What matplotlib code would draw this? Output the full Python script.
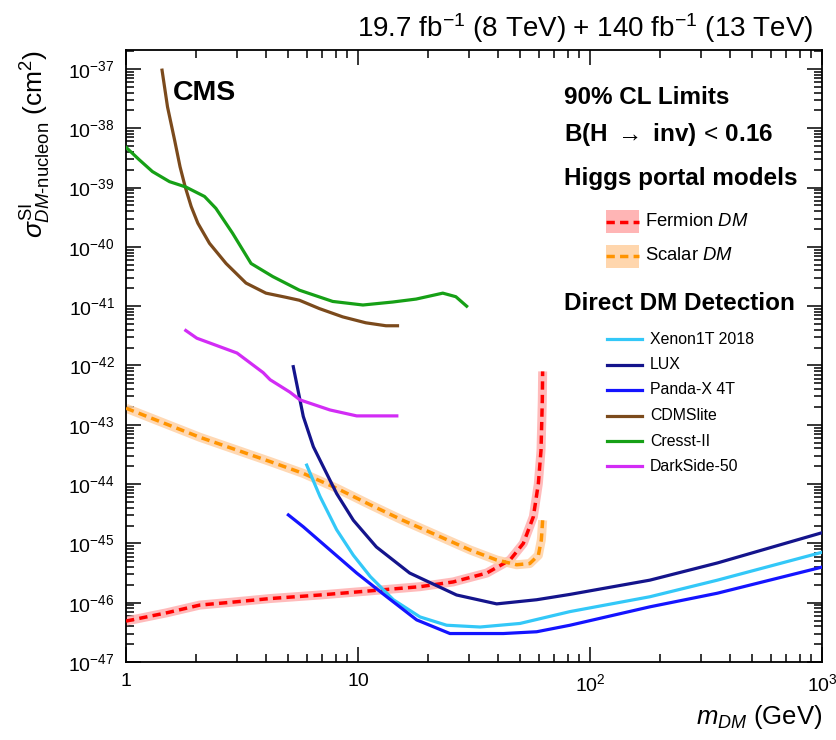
import numpy as np
import matplotlib
matplotlib.use("Agg")
import matplotlib.pyplot as plt
from matplotlib.ticker import LogLocator, FixedLocator, FixedFormatter, NullFormatter
from matplotlib.patches import Rectangle
from matplotlib.lines import Line2D

plt.rcParams['font.family'] = ['Liberation Sans', 'DejaVu Sans']
plt.rcParams['mathtext.fontset'] = 'custom'
plt.rcParams['mathtext.rm'] = 'Liberation Sans'
plt.rcParams['mathtext.it'] = 'Liberation Sans:italic'
plt.rcParams['mathtext.bf'] = 'Liberation Sans:bold'

# ---------------- data (mass in GeV, log10 of cross section in cm^2) ----------------
cdms_m = [1.43, 1.51, 1.62, 1.71, 1.80, 1.91, 2.04, 2.29, 2.70, 3.29, 4.01, 4.89, 5.59,
          6.81, 8.59, 10.8, 13.2, 14.8]
cdms_logs = [-37.02, -37.64, -38.20, -38.65, -38.99, -39.32, -39.60, -39.94, -40.28, -40.61,
             -40.78, -40.85, -40.90, -41.04, -41.18, -41.28, -41.33, -41.33]

cresst_m = [1.0, 1.14, 1.30, 1.54, 1.81, 2.18, 2.44, 2.88, 3.46, 4.29, 5.59, 7.78, 10.5,
            14.1, 17.8, 23.2, 26.4, 29.4]
cresst_logs = [-38.32, -38.53, -38.73, -38.90, -38.99, -39.15, -39.35, -39.77, -40.28, -40.50,
               -40.73, -40.92, -40.98, -40.93, -40.88, -40.78, -40.84, -41.00]

ds50_m = [1.81, 2.02, 3.01, 3.9, 4.18, 5.09, 5.62, 7.57, 9.87, 14.7]
ds50_logs = [-41.41, -41.54, -41.79, -42.12, -42.24, -42.45, -42.58, -42.75, -42.85, -42.85]

lux_m = [5.26, 5.81, 6.42, 7.09, 8.09, 9.55, 12.0, 16.7, 26.6, 39.6, 58.9, 82, 181, 354, 1000]
lux_logs = [-42.02, -42.86, -43.37, -43.71, -44.16, -44.61, -45.06, -45.50, -45.87, -46.02,
            -45.95, -45.86, -45.62, -45.33, -44.82]

xenon_m = [6.01, 6.86, 8.09, 9.55, 11.3, 14.2, 18.5, 24.1, 33.6, 49.9, 82, 181, 354, 1000]
xenon_logs = [-43.68, -44.21, -44.77, -45.20, -45.56, -45.95, -46.24, -46.38, -46.41, -46.35,
              -46.15, -45.90, -45.62, -45.15]

panda_m = [5.01, 5.81, 7.57, 9.87, 13.3, 17.9, 24.9, 42.3, 58.9, 82, 181, 354, 1000]
panda_logs = [-44.52, -44.72, -45.11, -45.50, -45.90, -46.29, -46.52, -46.52, -46.49, -46.38,
              -46.07, -45.84, -45.40]

ferm_m = [1.0, 1.5, 2.08, 2.89, 4.18, 6.86, 11.3, 18.5, 25.7, 35.9, 45.2, 51.6, 57.0, 59.9,
          61.5, 62.3, 62.5]
ferm_logs = [-46.31, -46.17, -46.04, -45.99, -45.93, -45.87, -45.80, -45.73, -45.65, -45.50,
             -45.28, -45.00, -44.55, -43.99, -43.43, -42.58, -42.10]

scal_m = [1.0, 2.08, 4.18, 5.81, 8.09, 11.3, 15.6, 21.8, 30.4, 39.6, 48.3, 55.0, 59.9, 61.7, 62.5]
scal_logs = [-42.72, -43.21, -43.62, -43.82, -44.07, -44.35, -44.61, -44.86, -45.11, -45.28,
             -45.36, -45.34, -45.20, -44.94, -44.61]

direct_labels = ["Xenon1T 2018", "LUX", "Panda-X 4T", "CDMSlite", "Cresst-II", "DarkSide-50"]
direct_colors = ["#33c8f8", "#14148c", "#1414ff", "#7b4a1c", "#16a016", "#d22cf5"]

def s(v):
    return 10.0 ** np.asarray(v)

# ---------------- figure ----------------
W, H = 837, 740
fig = plt.figure(figsize=(W / 100, H / 100), dpi=100)
L, R, T, B = 126, 822, 50, 662
ax = fig.add_axes([L / W, 1 - B / H, (R - L) / W, (B - T) / H])
ax.set_xscale('log')
ax.set_yscale('log')
ax.set_xlim(1, 1000)
ax.set_ylim(1e-47, 10 ** (-36.68))

DASH = (0, (2.4, 1.5))
# Higgs portal bands + dashed lines
ax.plot(ferm_m, s(ferm_logs), color='#ffb0b0', lw=6.5, alpha=0.85, solid_capstyle='butt', zorder=2)
ax.plot(ferm_m, s(ferm_logs), color='#ff0000', lw=2.5, ls=DASH, zorder=3)
ax.plot(scal_m, s(scal_logs), color='#ffd2a6', lw=6.5, alpha=0.85, solid_capstyle='butt', zorder=2)
ax.plot(scal_m, s(scal_logs), color='#ff9400', lw=2.5, ls=DASH, zorder=3)

# Direct detection limits
series = [(xenon_m, xenon_logs), (lux_m, lux_logs), (panda_m, panda_logs),
          (cdms_m, cdms_logs), (cresst_m, cresst_logs), (ds50_m, ds50_logs)]
for (m, lg), c in zip(series, direct_colors):
    ax.plot(m, s(lg), color=c, lw=2.3, zorder=4, solid_joinstyle='round')

# ticks: ROOT style
ax.tick_params(which='both', direction='in', top=True, right=True, width=1.1)
ax.tick_params(which='major', length=11, labelsize=14, pad=8)
ax.tick_params(which='minor', length=5.5)
ax.xaxis.set_major_locator(FixedLocator([1, 10, 100, 1000]))
ax.xaxis.set_major_formatter(FixedFormatter(['1', '10', r'$10^{2}$', r'$10^{3}$']))
ax.xaxis.set_minor_locator(LogLocator(base=10, subs=np.arange(2, 10), numticks=20))
ax.xaxis.set_minor_formatter(NullFormatter())
yt = [10.0 ** k for k in range(-47, -36)]
ax.yaxis.set_major_locator(FixedLocator(yt))
ax.yaxis.set_major_formatter(FixedFormatter([r'$10^{%d}$' % k for k in range(-47, -36)]))
ax.yaxis.set_minor_locator(LogLocator(base=10, subs=np.arange(2, 10), numticks=30))
ax.yaxis.set_minor_formatter(NullFormatter())
for sp in ax.spines.values():
    sp.set_linewidth(1.3)

def px(x, y):
    return x / W, 1 - y / H

# axis labels
fig.text(R / W, 1 - 717 / H, r'$m_{DM}$ (GeV)', ha='right', va='center', fontsize=18.5)
fig.text(36 / W, 1 - T / H, r'$\sigma^{\mathrm{SI}}_{DM\text{-nucleon}}$ (cm$^{2}$)',
         rotation=90, ha='center', va='top', fontsize=19)
fig.text(813 / W, 1 - 28 / H, r'19.7 fb$^{-1}$ (8 TeV) + 140 fb$^{-1}$ (13 TeV)',
         ha='right', va='center', fontsize=20)

fig.text(*px(173, 93), 'CMS', fontsize=20.5, fontweight='bold', ha='left', va='center')
HS = 17.5
fig.text(*px(564, 97), '90% CL Limits', fontsize=HS, fontweight='bold', ha='left', va='center')
fig.text(*px(564, 135), r'B(H $\rightarrow$ inv)$\,<\,$0.16', fontsize=HS, fontweight='bold',
         ha='left', va='center')
fig.text(*px(564, 178), 'Higgs portal models', fontsize=HS, fontweight='bold', ha='left', va='center')
fig.text(*px(564, 304), 'Direct DM Detection', fontsize=HS, fontweight='bold', ha='left', va='center')

# Higgs portal legend
for yc, fc, lc, lab in [(222, '#ffa8a8', '#ff0000', r'Fermion $DM$'),
                        (256, '#ffcf9f', '#ff9400', r'Scalar $DM$')]:
    x0, y0 = px(606, yc + 11.5)
    fig.add_artist(Rectangle((x0, y0), 33 / W, 23 / H, transform=fig.transFigure,
                             facecolor=fc, edgecolor='none', alpha=0.85))
    fig.add_artist(Line2D([606 / W, 639 / W], [1 - yc / H] * 2, transform=fig.transFigure,
                          color=lc, lw=2.5, ls=DASH))
    fig.text(*px(645, yc), lab, fontsize=13.3, ha='left', va='center')

# Direct detection legend
for i, (lab, c) in enumerate(zip(direct_labels, direct_colors)):
    yc = 339 + 25.5 * i
    fig.add_artist(Line2D([607 / W, 642 / W], [1 - yc / H] * 2, transform=fig.transFigure,
                          color=c, lw=2.3))
    fig.text(*px(650, yc), lab, fontsize=11.4, ha='left', va='center')

fig.savefig('out.png', dpi=100)
